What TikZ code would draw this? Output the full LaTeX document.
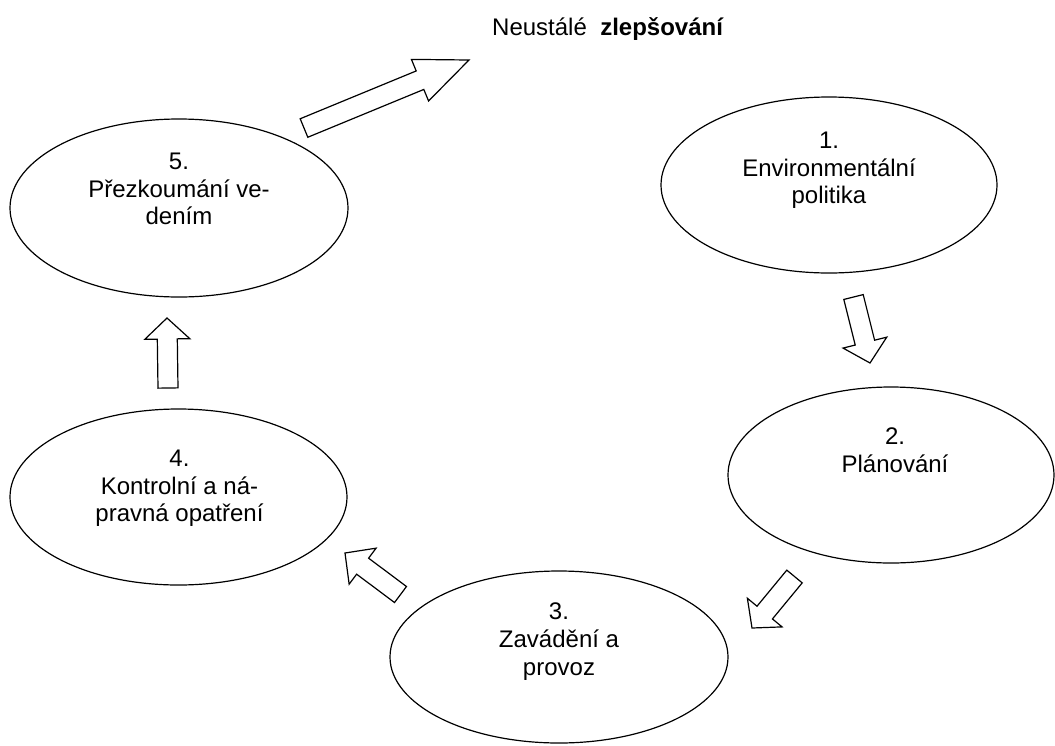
\documentclass[tikz,border=0pt]{standalone}
\usepackage{fontspec}
\setmainfont{Liberation Sans}
\usetikzlibrary{shapes.geometric,calc}
\tikzset{
  oval/.style={draw, ellipse, line width=1.2pt, inner sep=0pt},
  lbl/.style={align=center, inner sep=0pt, anchor=north, font=\fontsize{24}{27.6}\selectfont},
  blockarr/.style={draw, line width=1.2pt, fill=white, line join=miter},
}
% #1 tail coordinate, #2 tip coordinate, #3 head length
\newcommand\blockarrow[3]{%
  \coordinate (ba-h) at ($(#2)!#3!(#1)$);
  \draw[blockarr] ($(#1)!10pt!90:(#2)$) -- ($(ba-h)!10pt!-90:(#1)$)
    -- ($(ba-h)!22.5pt!-90:(#1)$) -- (#2) -- ($(ba-h)!22.5pt!90:(#1)$)
    -- ($(ba-h)!10pt!90:(#1)$) -- ($(#1)!10pt!-90:(#2)$) -- cycle;
}
\begin{document}
\begin{tikzpicture}[x=1pt,y=-1pt]
\useasboundingbox (0,0) rectangle (1055,745);

% ellipses
\node[oval, minimum width=336pt, minimum height=176pt] (e1) at (829,185) {};
\node[oval, minimum width=326pt, minimum height=176pt] (e2) at (891,475) {};
\node[oval, minimum width=338pt, minimum height=172pt] (e3) at (559,657) {};
\node[oval, minimum width=337pt, minimum height=176pt] (e4) at (178.5,497) {};
\node[oval, minimum width=338pt, minimum height=178pt] (e5) at (179,208) {};

% labels
\node[lbl] (t1) at ([yshift=53pt]e1.center) {1.\\Environmentální\\politika};
\node[lbl] (t2) at ([xshift=4pt,yshift=47pt]e2.center) {2.\\Plánování};
\node[lbl] (t3) at ([yshift=54pt]e3.center) {3.\\Zavádění a\\provoz};
\node[lbl] (t4) at ([xshift=1pt,yshift=47pt]e4.center) {4.\\Kontrolní a ná-\\pravná opatření};
\node[lbl] (t5) at ([yshift=55pt]e5.center) {5.\\Přezkoumání ve-\\dením};

\node[anchor=base west, inner sep=0pt, font=\fontsize{24}{27.6}\selectfont] (title) at (492,35) {Neustálé~ \textbf{zlepšování}};

% arrow end points
\coordinate (a0s) at (304,128);   \coordinate (a0e) at (469,60);
\coordinate (a1s) at (853.5,297); \coordinate (a1e) at (870,363);
\coordinate (a2s) at (794.5,576.5); \coordinate (a2e) at (752,628);
\coordinate (a3s) at (400.5,594.5); \coordinate (a3e) at (345,553);
\coordinate (a4s) at (168,388);   \coordinate (a4e) at (167,318);

\blockarrow{a0s}{a0e}{53pt}
\blockarrow{a1s}{a1e}{21pt}
\blockarrow{a2s}{a2e}{20pt}
\blockarrow{a3s}{a3e}{22pt}
\blockarrow{a4s}{a4e}{21pt}
\end{tikzpicture}
\end{document}
